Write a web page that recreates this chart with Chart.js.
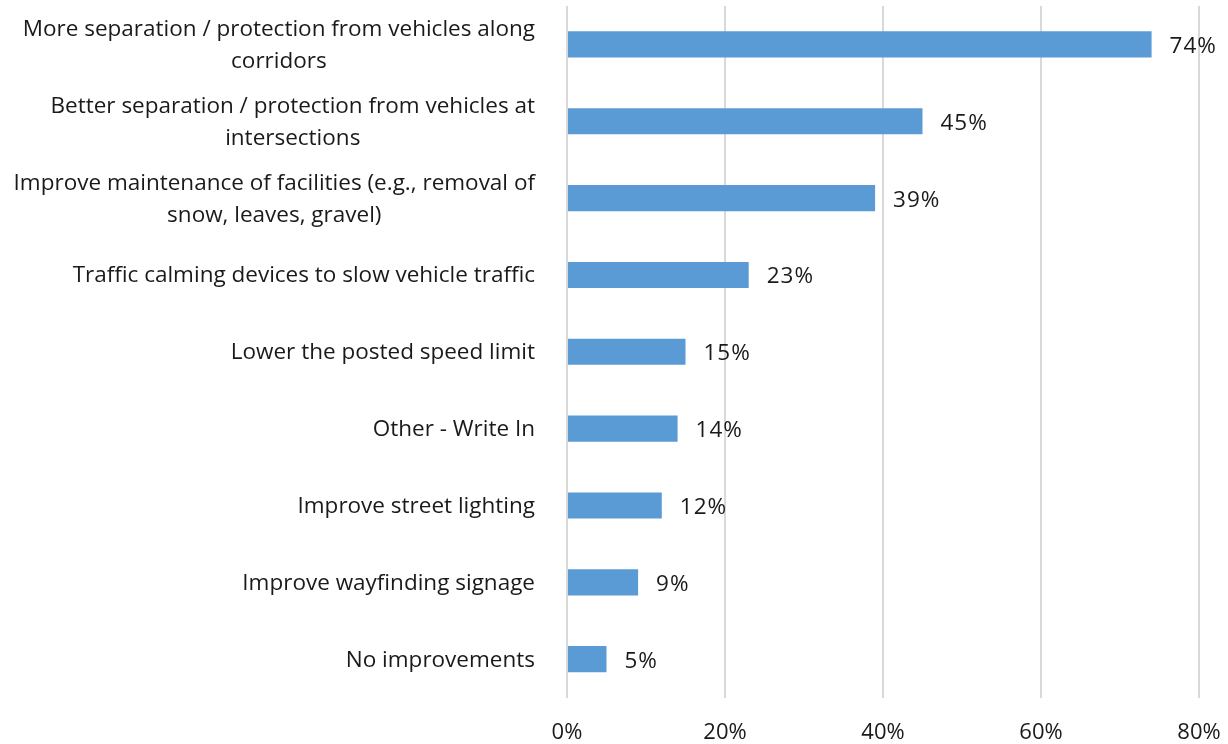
<!DOCTYPE html>
<html>
<head>
<meta charset="utf-8">
<script src="https://cdn.jsdelivr.net/npm/chart.js@4"></script>
<style>
  html, body { margin: 0; padding: 0; background: #fff; }
  #wrap { width: 1228px; height: 744px; }
</style>
</head>
<body>
<div id="wrap"><canvas id="barChart"></canvas></div>
<script>
const categories = [
  ['More separation / protection from vehicles along', 'corridors'],
  ['Better separation / protection from vehicles at', 'intersections'],
  ['Improve maintenance of facilities (e.g., removal of', 'snow, leaves, gravel)'],
  ['Traffic calming devices to slow vehicle traffic'],
  ['Lower the posted speed limit'],
  ['Other - Write In'],
  ['Improve street lighting'],
  ['Improve wayfinding signage'],
  ['No improvements']
];
const shares = [74, 45, 39, 23, 15, 14, 12, 9, 5];
const xTicks = [0, 20, 40, 60, 80];

const FONT = '"Open Sans", Lato, sans-serif';
const TEXT = '#1a1a1a';

// category labels: right-aligned block, lines centred within the block
const catLabels = {
  id: 'catLabels',
  afterDraw(chart) {
    const c = chart.ctx;
    const y = chart.scales.y;
    const right = chart.chartArea.left - 32;
    const lh = 32;
    c.save();
    c.font = '22.5px ' + FONT;
    c.fillStyle = TEXT;
    c.textAlign = 'center';
    c.textBaseline = 'middle';
    categories.forEach((lines, i) => {
      const w = Math.max(...lines.map(l => c.measureText(l).width));
      const cx = right - w / 2;
      const cy = y.getPixelForTick(i) + 1;
      const top = cy - (lines.length - 1) * lh / 2;
      lines.forEach((l, k) => c.fillText(l, cx, top + k * lh));
    });
    c.restore();
  }
};

// value labels just past the end of each bar
const valueLabels = {
  id: 'valueLabels',
  afterDatasetsDraw(chart) {
    const c = chart.ctx;
    const meta = chart.getDatasetMeta(0);
    c.save();
    c.font = '22.5px ' + FONT;
    c.letterSpacing = '1px';
    c.fillStyle = TEXT;
    c.textAlign = 'left';
    c.textBaseline = 'middle';
    meta.data.forEach((bar, i) => {
      c.fillText(shares[i] + '%', bar.x + 18, bar.y + 2);
    });
    c.restore();
  }
};

new Chart(document.getElementById('barChart'), {
  type: 'bar',
  data: {
    labels: categories.map(l => l.join(' ')),
    datasets: [{
      data: shares,
      backgroundColor: '#5b9bd5',
      barPercentage: 0.34,
      categoryPercentage: 1
    }]
  },
  options: {
    indexAxis: 'y',
    responsive: true,
    maintainAspectRatio: false,
    animation: false,
    layout: { padding: { top: 6, right: 0, bottom: -24, left: 0 } },
    plugins: {
      legend: { display: false },
      tooltip: { enabled: false }
    },
    scales: {
      x: {
        min: 0,
        max: 80,
        afterBuildTicks(scale) {
          scale.ticks = xTicks.map(v => ({ value: v }));
        },
        afterFit(scale) {
          scale.paddingLeft = 0;
          scale.paddingRight = 29;
        },
        grid: { color: '#d9d9d9', lineWidth: 2, drawTicks: false },
        border: { display: false },
        ticks: {
          color: TEXT,
          font: { family: FONT, size: 22 },
          padding: 22,
          callback: v => v + '%'
        }
      },
      y: {
        grid: { display: false },
        border: { display: false },
        ticks: { display: false },
        afterFit(scale) { scale.width = 567; }
      }
    }
  },
  plugins: [catLabels, valueLabels]
});
</script>
</body>
</html>
